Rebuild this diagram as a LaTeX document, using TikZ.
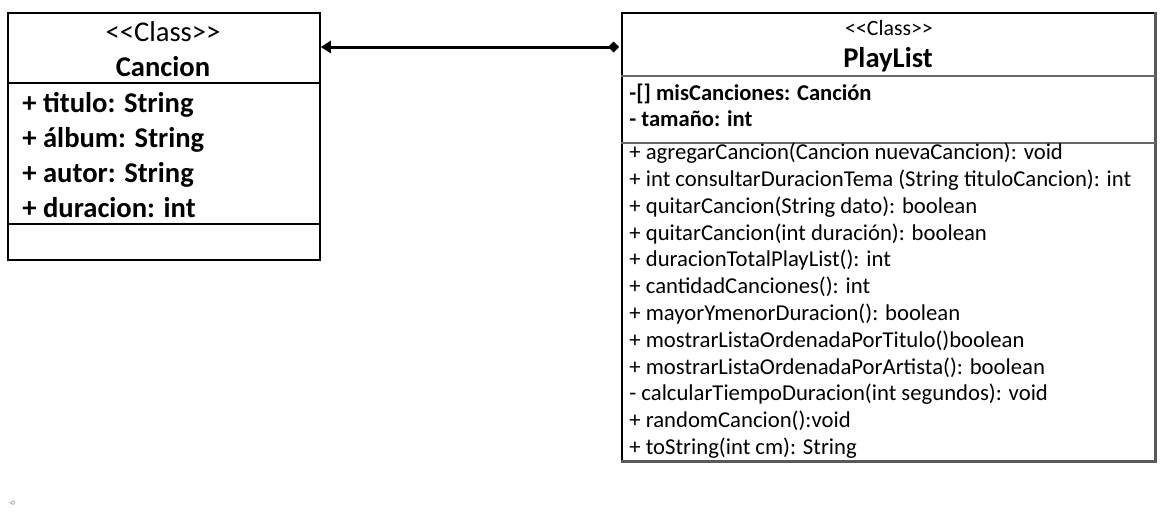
\documentclass[tikz,border=0pt]{standalone}
\usepackage{fontspec}
\setmainfont{Carlito}
\usetikzlibrary{arrows.meta}
\begin{document}
\begin{tikzpicture}[x=0.5pt,y=-0.5pt,
  classbox/.style={draw=black, line width=0.9pt, inner sep=0pt, anchor=north west},
  rule/.style={line width=0.9pt, draw=#1},
  rule/.default=black,
  bighead/.style={inner sep=0pt, anchor=mid, font=\fontsize{14.3}{17}\selectfont},
  bigname/.style={inner sep=0pt, anchor=mid, font=\fontsize{14.3}{17}\selectfont\bfseries},
  bigrow/.style={inner sep=0pt, anchor=mid west, font=\fontsize{14.3}{17}\selectfont\bfseries},
  smallhead/.style={inner sep=0pt, anchor=mid, font=\fontsize{10.9}{13}\selectfont},
  smallrowb/.style={inner sep=0pt, anchor=mid west, font=\fontsize{11.3}{13.6}\selectfont\bfseries},
  smallrow/.style={inner sep=0pt, anchor=mid west, font=\fontsize{11.35}{13.6}\selectfont},
  assoc/.style={line width=1.5pt, {Triangle[length=5pt,width=6pt]}-{Diamond[length=5.5pt,width=5.5pt]}}
]
\useasboundingbox (0,0) rectangle (1171,515);

% class Cancion
\node[classbox, minimum width=156pt, minimum height=123.5pt] (cancion) at (7,12) {};
\draw[rule] (cancion.west |- 0,83) -- (cancion.east |- 0,83);
\draw[rule] (cancion.west |- 0,224) -- (cancion.east |- 0,224);
\node[bighead] (cst) at (163,37) {<{}<Class>{}>};
\node[bigname] (cname) at (163,72) {Cancion};
\node[bigrow] (ca1) at (22,108) {+ titulo: String};
\node[bigrow] (ca2) at (22,143) {+ álbum: String};
\node[bigrow] (ca3) at (22,177.5) {+ autor: String};
\node[bigrow] (ca4) at (22,212.5) {+ duracion: int};

% class PlayList
\node[classbox, minimum width=266.5pt, minimum height=224pt] (playlist) at (621,12) {};
\draw[line width=1.4pt, draw=black!65] (playlist.north east) -- (playlist.south east) -- (playlist.south west);
\draw[rule=black!60] (playlist.west |- 0,76) -- (playlist.east |- 0,76);
\draw[rule=black!60] (playlist.west |- 0,143) -- (playlist.east |- 0,143);
\node[smallhead] (pst) at (889,31) {<{}<Class>{}>};
\node[bigname] (pname) at (888,63) {PlayList};
\node[smallrowb] (pa1) at (629,96) {-[] misCanciones: Canción};
\node[smallrowb] (pa2) at (629,122) {- tamaño: int};
\node[smallrow] (pm1) at (629,155) {+ agregarCancion(Cancion nuevaCancion): void};
\node[smallrow] (pm2) at (629,181.8) {+ int consultarDuracionTema (String tituloCancion): int};
\node[smallrow] (pm3) at (629,208.6) {+ quitarCancion(String dato): boolean};
\node[smallrow] (pm4) at (629,235.4) {+ quitarCancion(int duración): boolean};
\node[smallrow] (pm5) at (629,262.2) {+ duracionTotalPlayList(): int};
\node[smallrow] (pm6) at (629,289) {+ cantidadCanciones(): int};
\node[smallrow] (pm7) at (629,315.8) {+ mayorYmenorDuracion(): boolean};
\node[smallrow] (pm8) at (629,342.6) {+ mostrarListaOrdenadaPorTitulo()boolean};
\node[smallrow] (pm9) at (629,369.4) {+ mostrarListaOrdenadaPorArtista(): boolean};
\node[smallrow] (pm10) at (629,396.2) {- calcularTiempoDuracion(int segundos): void};
\node[smallrow] (pm11) at (629,423) {+ randomCancion():void};
\node[smallrow] (pm12) at (629,449.8) {+ toString(int cm): String};

% association between the two classes
\draw[assoc] ([yshift=-17.5pt]cancion.north east) -- ([yshift=-17.5pt,xshift=-1pt]playlist.north west);

% page number in the margin
\node[inner sep=0pt, rotate=90, text=black!40, font=\fontsize{4.5}{5}\selectfont] (pageno) at (12,503) {6};
\end{tikzpicture}
\end{document}
